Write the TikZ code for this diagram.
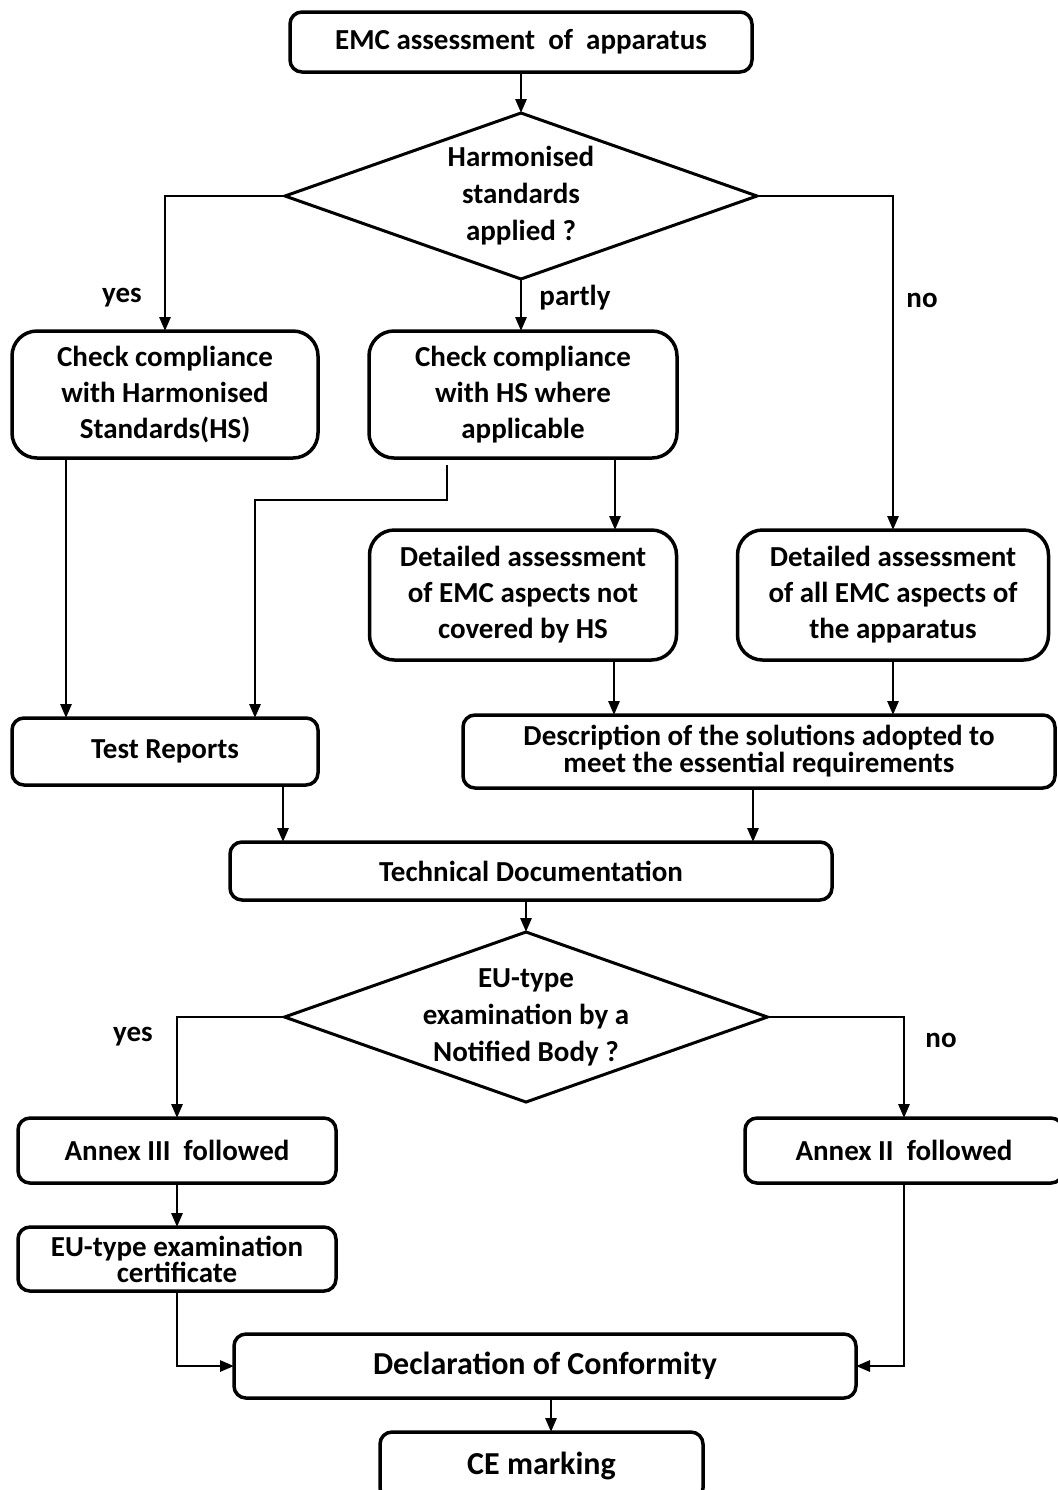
\documentclass[tikz,border=0pt]{standalone}
\usepackage{fontspec}
\setmainfont{Carlito}
\usepackage{tikz}
\usetikzlibrary{shapes.geometric,arrows.meta,positioning,calc}
\tikzset{flowbox/.style={rectangle, rounded corners=6pt, draw=black, line width=1.75pt, text centered, align=center, inner sep=2pt, outer sep=0pt, font=\bfseries\fontsize{14.5}{18}\selectfont}}
\tikzset{softbox/.style={flowbox, rounded corners=12.5pt}}
\tikzset{decision/.style={diamond, aspect=2.84, draw=black, line width=1.5pt, align=center, inner sep=0pt, outer sep=0pt, minimum width=236pt, minimum height=83pt, font=\bfseries\fontsize{14.5}{18.5}\selectfont}}
\tikzset{arrow/.style={line width=1.4pt, ->, >={Triangle[length=7pt,width=5.5pt]}}}
\tikzset{answer/.style={font=\bfseries\fontsize{14.5}{18}\selectfont}}

\begin{document}
\begin{tikzpicture}[node distance=20pt and 20pt]
  \useasboundingbox (0,0) rectangle (528.5pt,-745pt);

  \node[flowbox, minimum width=231pt, minimum height=30pt] (emc) at (260.5pt,-21pt) {EMC assessment~~of~~apparatus};
  \node[decision, below=20.5pt of emc] (hs-applied) {Harmonised\\standards\\applied ?};

  \node[softbox, minimum width=154pt, minimum height=63.5pt, below=26pt of hs-applied, xshift=1pt] (check-part) {Check compliance\\with HS where\\applicable};
  \node[softbox, minimum width=153pt, minimum height=63.5pt, left=25.5pt of check-part] (check-hs) {Check compliance\\with Harmonised\\Standards(HS)};
  \node[softbox, minimum width=153.5pt, minimum height=65pt, below=36pt of check-part] (detail-part) {Detailed assessment\\of EMC aspects not\\covered by HS};
  \node[softbox, minimum width=155.5pt, minimum height=65pt, right=30.5pt of detail-part] (detail-all) {Detailed assessment\\of all EMC aspects of\\the apparatus};

  \node[flowbox, minimum width=153pt, minimum height=33.5pt, below=130pt of check-hs] (test-reports) {Test Reports};
  \node[flowbox, minimum width=296pt, minimum height=36.5pt, right=72.5pt of test-reports, font=\bfseries\fontsize{14.5}{13.5}\selectfont] (solutions) {Description of the solutions adopted to\\meet the essential requirements};

  \coordinate (doc-in) at (solutions.south -| emc.south);
  \node[flowbox, minimum width=301pt, minimum height=29pt, below=27pt of doc-in, xshift=5pt] (tech-doc) {Technical Documentation};
  \node[decision, below=16pt of tech-doc, xshift=-2.5pt] (eu-type) {EU-type\\examination by a\\Notified Body ?};

  \node[flowbox, minimum width=159pt, minimum height=32.5pt, below=8pt of eu-type, xshift=-174.5pt] (annex-3) {Annex III~~followed};
  \node[flowbox, minimum width=159pt, minimum height=32.5pt, right=204.5pt of annex-3] (annex-2) {Annex II~~followed};
  \node[flowbox, minimum width=159pt, minimum height=32pt, below=22pt of annex-3, font=\bfseries\fontsize{14.5}{13}\selectfont] (eu-cert) {EU-type examination\\certificate};
  \node[flowbox, minimum width=311pt, minimum height=32pt, below=21.5pt of eu-cert, xshift=184pt, font=\bfseries\fontsize{16}{19}\selectfont] (conformity) {Declaration of Conformity};
  \node[flowbox, minimum width=161.5pt, minimum height=34pt, below=17pt of conformity, xshift=-1.75pt, font=\bfseries\fontsize{16}{19}\selectfont] (ce) {CE marking};

  \node[answer] (yes-1) at (61pt,-149pt) {yes};
  \node[answer] (partly) at (287.5pt,-149pt) {partly};
  \node[answer] (no-1) at (461pt,-150pt) {no};
  \node[answer] (yes-2) at (66.5pt,-518.5pt) {yes};
  \node[answer] (no-2) at (470.5pt,-520pt) {no};

  \draw[arrow] (emc) -- (hs-applied);
  \draw[arrow] (hs-applied.west) -| (check-hs.north);
  \draw[arrow] (hs-applied.south) -- (hs-applied.south |- check-part.north);
  \draw[arrow] (hs-applied.east) -| (detail-all.north);

  \draw[arrow] ([xshift=27pt]check-hs.south west) -- ([xshift=27pt]test-reports.north west);
  \draw[arrow] ([xshift=-38pt,yshift=-3.5pt]check-part.south) -- ++(0,-17.5pt) -| ([xshift=-31.5pt]test-reports.north east);
  \draw[arrow] ([xshift=46pt]check-part.south) -- ([xshift=46pt]check-part.south |- detail-part.north);
  \draw[arrow] ([xshift=45.5pt]detail-part.south) -- ([xshift=45.5pt]detail-part.south |- solutions.north);
  \draw[arrow] (detail-all.south) -- (detail-all.south |- solutions.north);

  \draw[arrow] ([xshift=-17.5pt]test-reports.south east) -- ([xshift=-17.5pt]test-reports.south east |- tech-doc.north);
  \draw[arrow] ([xshift=-3pt]solutions.south) -- ([xshift=-3pt]solutions.south |- tech-doc.north);
  \draw[arrow] (tech-doc.south -| eu-type.north) -- (eu-type.north);

  \draw[arrow] (eu-type.west) -| (annex-3.north);
  \draw[arrow] (eu-type.east) -| (annex-2.north);
  \draw[arrow] (annex-3) -- (eu-cert);
  \draw[arrow] (eu-cert.south) |- (conformity.west);
  \draw[arrow] (annex-2.south) |- (conformity.east);
  \draw[arrow] ([xshift=3pt]conformity.south) -- ([xshift=3pt]conformity.south |- ce.north);
\end{tikzpicture}
\end{document}
